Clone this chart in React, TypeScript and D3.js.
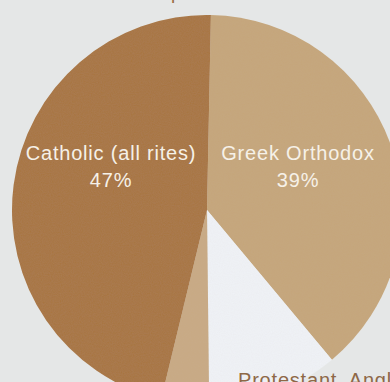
import React from "react";
import * as d3 from "d3";

const categories = ["Greek Orthodox", "Protestant, Anglican", "Other", "Catholic (all rites)"];
const values = [39, 11, 4, 47];
const colors = ["#c6a67a", "#f0f3f7", "#c9aa84", "#a8743f"];
const labelled = ["Greek Orthodox", "Catholic (all rites)"];

const W = 390;
const H = 382;

export default function App() {
  const cx = 207;
  const cy = 210;
  const r = 195;
  const rot = 0.02;
  const pie = d3
    .pie<number>()
    .sort(null)
    .startAngle(rot)
    .endAngle(Math.PI * 2 + rot);
  const arcs = pie(values);
  const arc = d3.arc<d3.PieArcDatum<number>>().innerRadius(0).outerRadius(r);

  const labelPos: Record<string, [number, number]> = {
    "Greek Orthodox": [298, 160],
    "Catholic (all rites)": [111, 160],
  };

  return (
    <svg
      width={W}
      height={H}
      style={{ position: "absolute", left: 0, top: 0, display: "block" }}
      fontFamily="'Liberation Sans', Arial, sans-serif"
    >
      <defs>
        <filter id="grain" x="0" y="0" width="100%" height="100%">
          <feTurbulence type="fractalNoise" baseFrequency="0.9" numOctaves="2" seed="3" result="n" />
          <feColorMatrix
            in="n"
            type="matrix"
            values="0 0 0 0 0.5  0 0 0 0 0.45  0 0 0 0 0.4  0 0 0 0.10 0"
            result="nc"
          />
          <feComposite in="nc" in2="SourceGraphic" operator="in" result="g" />
          <feMerge>
            <feMergeNode in="SourceGraphic" />
            <feMergeNode in="g" />
          </feMerge>
        </filter>
      </defs>
      <rect x={0} y={0} width={W} height={H} fill="#e5e7e7" />
      <text x={171} y={-1} fontSize={19} fill="#9a6e45">
        p
      </text>
      <g transform={`translate(${cx},${cy})`} filter="url(#grain)">
        {arcs.map((a, i) => (
          <path key={categories[i]} d={arc(a) || ""} fill={colors[i]} />
        ))}
      </g>
      {arcs.map((a, i) => {
        const name = categories[i];
        if (!labelled.includes(name)) return null;
        const [x, y] = labelPos[name];
        return (
          <g key={name} fill="#f6f1e8" fontSize={20} textAnchor="middle" letterSpacing={0.8}>
            <text x={x} y={y}>{name}</text>
            <text x={x} y={y + 27}>{`${values[i]}%`}</text>
          </g>
        );
      })}
      <text x={238} y={387} fontSize={20} fill="#8e6847" letterSpacing={0.8}>
        {categories[1]}
      </text>
    </svg>
  );
}
